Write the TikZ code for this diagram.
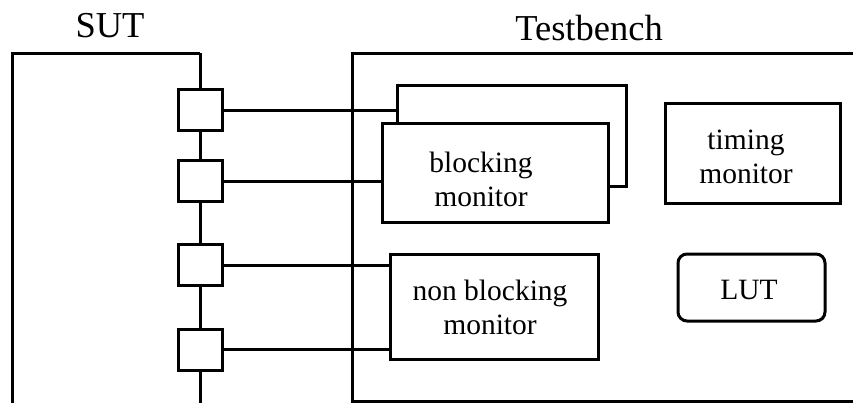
\documentclass[tikz,border=0pt]{standalone}
\usepackage{fontspec}
\setmainfont{Liberation Serif}
\begin{document}
\begin{tikzpicture}[x=1pt,y=-1pt,line width=3pt,
  port/.style={draw, rectangle, fill=white, minimum width=44pt, minimum height=41pt, inner sep=0pt},
  unitbox/.style={draw, rectangle, fill=white, inner sep=0pt},
  lbl/.style={font=\fontsize{29.5}{34}\selectfont, align=center, inner sep=0pt},
  ttl/.style={font=\fontsize{36.5}{40}\selectfont, inner sep=0pt, anchor=base},
  wire/.style={draw, line width=3pt}]
  \useasboundingbox (0,0) rectangle (853,403);
  \clip (0,0) rectangle (853,403);

  % titles
  \node[ttl] (sutlbl) at (110,37.5) {SUT};
  \node[ttl] (tblbl) at (589,40.5) {Testbench};

  % system under test outline
  \coordinate (sutTR) at (200,53.5);
  \coordinate (sutBR) at (200,405);
  \draw (12,405) |- (sutTR);

  % testbench outline (extends past the right edge)
  \draw (880,53.5) -| (352,401.5) -- (880,401.5);

  % ports on the SUT boundary
  \node[port] (p1) at (200,110.2) {};
  \node[port] (p2) at (200,181.2) {};
  \node[port] (p3) at (200,265.2) {};
  \node[port] (p4) at (200,349.5) {};
  \draw[wire] (sutTR) -- (p1.north);
  \draw[wire] (p1.south) -- (p2.north);
  \draw[wire] (p2.south) -- (p3.north);
  \draw[wire] (p3.south) -- (p4.north);
  \draw[wire] (p4.south) -- (sutBR);

  % monitors
  \node[unitbox, minimum width=229pt, minimum height=101pt] (bback) at (511.5,136.5) {};
  \node[unitbox, minimum width=226pt, minimum height=99pt] (bfront) at (495,173.5) {};
  \node[lbl] (bfronttxt) at (481,179.5) {blocking\\monitor};

  \node[unitbox, minimum width=208pt, minimum height=105pt] (nonblk) at (494,306.5) {};
  \node[lbl] (nonblktxt) at (490,307.5) {non blocking\\monitor};

  \node[unitbox, minimum width=175pt, minimum height=100pt] (timing) at (752.5,154) {};
  \node[lbl] (timingtxt) at (746,156.5) {timing\\monitor};

  \node[unitbox, rounded corners=9pt, minimum width=147pt, minimum height=67pt] (lut) at (751.5,287.5) {};
  \node[lbl] (luttxt) at (749,290) {LUT};

  % connections from ports to monitors
  \draw[wire] (p1.east) -- (p1.east -| bback.west);
  \draw[wire] (p2.east) -- (p2.east -| bfront.west);
  \draw[wire] (p3.east) -- (p3.east -| nonblk.west);
  \draw[wire] (p4.east) -- (p4.east -| nonblk.west);
\end{tikzpicture}
\end{document}
